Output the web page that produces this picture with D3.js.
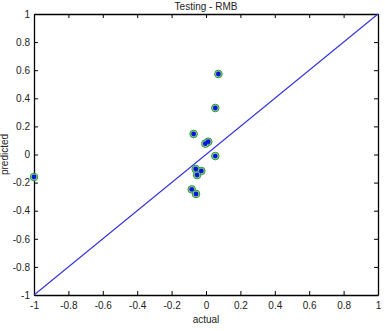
<!DOCTYPE html>
<html>
<head>
<meta charset="utf-8">
<script src="https://cdn.jsdelivr.net/npm/d3@7"></script>
<style>
  body { margin: 0; background: #fff; }
  svg { display: block; }
  text { font-family: "Liberation Sans", Arial, sans-serif; fill: #222; }
</style>
</head>
<body>
<div id="chart"></div>
<script>
// Values.
const actual = [-1.0, -0.072, 0.013, -0.004, 0.072, 0.054, 0.054, -0.06, -0.027, -0.052, -0.083, -0.058]
const predicted = [-0.16, 0.146, 0.091, 0.077, 0.573, 0.331, -0.011, -0.103, -0.117, -0.146, -0.248, -0.281]
const ticks = [-1, -0.8, -0.6, -0.4, -0.2, 0, 0.2, 0.4, 0.6, 0.8, 1]
const diagonal = [-1, 1]

const W = 385, H = 331
const margin = {top: 14, right: 7, bottom: 36, left: 34}

const svg = d3.select('#chart')
  .append('svg')
    .attr('width', W)
    .attr('height', H)

const x = d3.scaleLinear().domain([-1, 1]).range([margin.left, W - margin.right])
const y = d3.scaleLinear().domain([-1, 1]).range([H - margin.bottom, margin.top])

// Axes with inward ticks on all four sides, plain hyphen minus.
const tickLen = 4
const fmt = d => String(+d.toFixed(1))

svg.append('g')
  .attr('transform', 'translate(0,' + y(-1) + ')')
  .call(d3.axisBottom(x).tickValues(ticks).tickSizeInner(-tickLen).tickSizeOuter(0).tickPadding(7).tickFormat(fmt))
svg.append('g')
  .attr('transform', 'translate(0,' + y(1) + ')')
  .call(d3.axisTop(x).tickValues(ticks).tickSizeInner(-tickLen).tickSizeOuter(0).tickFormat(''))
svg.append('g')
  .attr('transform', 'translate(' + x(-1) + ',0)')
  .call(d3.axisLeft(y).tickValues(ticks).tickSizeInner(-tickLen).tickSizeOuter(0).tickPadding(4).tickFormat(fmt))
svg.append('g')
  .attr('transform', 'translate(' + x(1) + ',0)')
  .call(d3.axisRight(y).tickValues(ticks).tickSizeInner(-tickLen).tickSizeOuter(0).tickFormat(''))

svg.selectAll('.domain').attr('stroke', '#000').attr('stroke-width', 1.3)
svg.selectAll('.tick line').attr('stroke', '#000')
svg.selectAll('.tick text').attr('font-size', 10).attr('fill', '#222')
  .attr('font-family', '"Liberation Sans", Arial, sans-serif')

// Reference line y = x.
svg.append('line')
  .attr('x1', x(diagonal[0])).attr('y1', y(diagonal[0]))
  .attr('x2', x(diagonal[1])).attr('y2', y(diagonal[1]))
  .attr('stroke', '#3333dd')
  .attr('stroke-width', 1.1)

// Points: green ring with blue dot.
const pts = actual.map((a, i) => ({a: a, p: predicted[i]}))
svg.selectAll('.ring')
  .data(pts)
  .enter()
  .append('circle')
    .attr('cx', d => x(d.a))
    .attr('cy', d => y(d.p))
    .attr('r', 3.8)
    .attr('fill', '#9ad39a')
    .attr('stroke', '#2e9a3a')
    .attr('stroke-width', 1)
svg.selectAll('.dot')
  .data(pts)
  .enter()
  .append('circle')
    .attr('cx', d => x(d.a))
    .attr('cy', d => y(d.p))
    .attr('r', 2.4)
    .attr('fill', '#0a14e0')

// Titles.
svg.append('text')
  .attr('x', (x(-1) + x(1)) / 2)
  .attr('y', 10)
  .attr('text-anchor', 'middle')
  .attr('font-size', 10)
  .text('Testing - RMB')
svg.append('text')
  .attr('x', (x(-1) + x(1)) / 2)
  .attr('y', 323)
  .attr('text-anchor', 'middle')
  .attr('font-size', 10)
  .text('actual')
svg.append('text')
  .attr('transform', 'translate(8,' + ((y(-1) + y(1)) / 2) + ') rotate(-90)')
  .attr('text-anchor', 'middle')
  .attr('font-size', 10)
  .text('predicted')
</script>
</body>
</html>
